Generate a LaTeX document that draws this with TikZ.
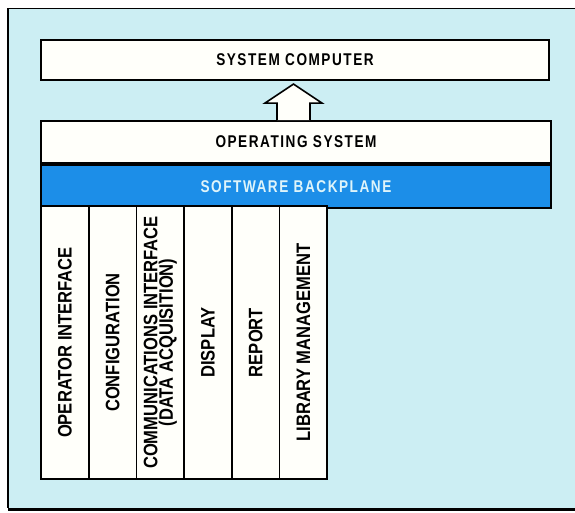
\documentclass[tikz,border=0pt]{standalone}
\usepackage{fontspec}
\newfontfamily\boxfont[FakeStretch=0.8,LetterSpace=9]{Liberation Sans}
\newfontfamily\colfont[FakeStretch=0.85]{Liberation Sans}
\usetikzlibrary{calc}
\usetikzlibrary{positioning}

\definecolor{paneltint}{RGB}{204,238,243}
\definecolor{planeblue}{RGB}{28,142,232}
\definecolor{planetext}{RGB}{222,244,250}
\definecolor{boxwhite}{RGB}{255,255,250}

\begin{document}
\begin{tikzpicture}[
		x=1pt,
		y=-1pt,
		thick,
		layer box/.style={
			draw,
			line width=1.8pt,
			fill=boxwhite,
			minimum height=42pt,
			inner sep=0pt,
			font=\boxfont\bfseries\fontsize{17}{19}\selectfont
		},
		plane box/.style={
			layer box,
			fill=planeblue,
			text=planetext,
			minimum height=43pt
		},
		module col/.style={
			draw,
			line width=1.8pt,
			fill=boxwhite,
			rotate=90,
			minimum width=273pt,
			minimum height=47.7pt,
			inner sep=0pt,
			align=center,
			font=\colfont\bfseries\fontsize{19.5}{15.5}\selectfont
		}
		]
		\useasboundingbox (0,0) rectangle (575,513);
		\clip (0,0) rectangle (575,513);

		% background panel
		\fill[paneltint] (8,8) rectangle (580,509);
		\draw[line width=1.4pt] (580,8.5) -- (8,8.5) -- (8,508);
		\draw[line width=3pt] (8,509) -- (580,509);

		% layers
		\node[layer box, minimum width=508pt, minimum height=40pt] (sys) at (295,60) {SYSTEM COMPUTER};
		\node[layer box, minimum width=510pt] (os) at (296,142) {OPERATING SYSTEM};
		\node[plane box, minimum width=510pt] (plane) [below=0pt of os] {SOFTWARE BACKPLANE};

		% modules under the backplane
		\foreach \lab [count=\i] in {OPERATOR INTERFACE, CONFIGURATION,
			{COMMUNICATIONS INTERFACE\\(DATA ACQUISITION)}, DISPLAY, REPORT,
			LIBRARY MANAGEMENT}
			\node[module col] (m\i) at ({41+47.7*(\i-0.5)},342.5) {\lab};

		% hollow arrow up to the system computer
		\coordinate (foot) at ($(os.north)+(-2.5,0)$);
		\draw[line width=1.6pt, fill=boxwhite, line join=miter]
			($(foot)+(-16.5,0)$) -- ++(0,-17) -- ++(-12,0) -- ($(foot)+(0,-36)$)
			-- ($(foot)+(28.5,-17)$) -- ++(-12,0) -- ($(foot)+(16.5,0)$);
	\end{tikzpicture}
\end{document}
